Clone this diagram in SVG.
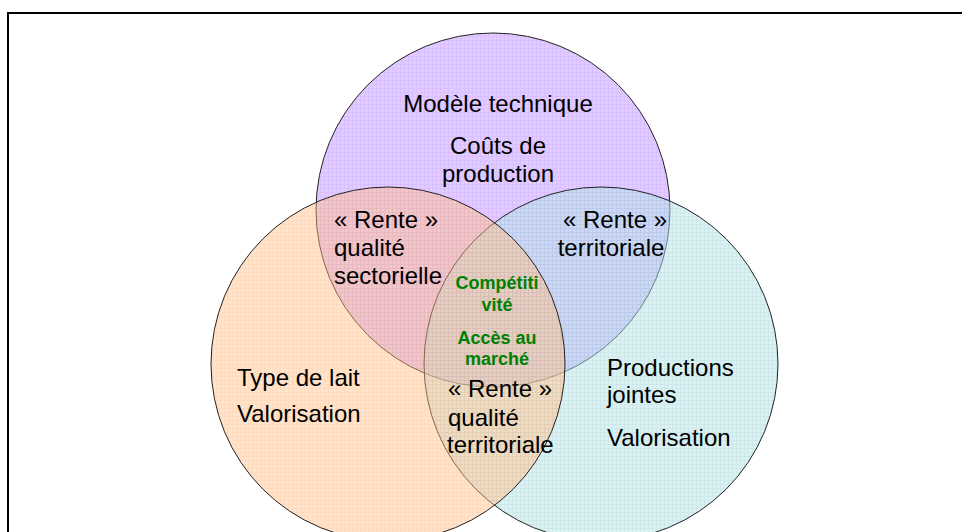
<svg xmlns="http://www.w3.org/2000/svg" width="962" height="532" viewBox="0 0 962 532">
<defs>
<pattern id="gP" width="4" height="4" patternUnits="userSpaceOnUse"><rect width="4" height="4" fill="#C896FF"/><path d="M0 0.5H4M0.5 0V4" stroke="#B482FF" stroke-width="1"/></pattern>
<pattern id="gO" width="4" height="4" patternUnits="userSpaceOnUse"><rect width="4" height="4" fill="#FFC48C"/><path d="M0 0.5H4M0.5 0V4" stroke="#FFB070" stroke-width="1"/></pattern>
<pattern id="gC" width="4" height="4" patternUnits="userSpaceOnUse"><rect width="4" height="4" fill="#BCE4E6"/><path d="M0 0.5H4M0.5 0V4" stroke="#9CD4D8" stroke-width="1"/></pattern>
</defs>
<style>
.c{stroke:#222;stroke-width:1}
.t{font-family:"Liberation Sans",Arial,sans-serif;font-size:24px;fill:#000}
.g{font-family:"Liberation Sans",Arial,sans-serif;font-size:18px;font-weight:bold;fill:#008000;text-anchor:middle}
.m{text-anchor:middle}
</style>
<rect x="0" y="0" width="962" height="532" fill="#fff"/>
<rect x="8" y="13" width="1000" height="600" fill="none" stroke="#000" stroke-width="2"/>
<g id="circle-top"><circle class="c" cx="493" cy="210" r="177" fill="url(#gP)" fill-opacity="0.5"/></g>
<g id="circle-right"><circle class="c" cx="601" cy="364" r="177" fill="url(#gC)" fill-opacity="0.5"/></g>
<g id="circle-left"><circle class="c" cx="388" cy="364" r="177" fill="url(#gO)" fill-opacity="0.45"/></g>
<g id="connectors"/>
<g id="label-top" class="t m">
<text x="498" y="112">Modèle technique</text>
<text x="498" y="154">Coûts de</text>
<text x="498" y="182">production</text>
</g>
<g id="label-top-left" class="t">
<text x="334" y="228">« Rente »</text>
<text x="334" y="256">qualité</text>
<text x="334" y="284">sectorielle</text>
</g>
<g id="label-top-right" class="t m">
<text x="615" y="228">« Rente »</text>
<text x="611" y="256">territoriale</text>
</g>
<g id="label-center">
<text class="g" x="497" y="289">Compétiti</text>
<text class="g" x="497" y="311">vité</text>
<text class="g" x="497" y="344">Accès au</text>
<text class="g" x="497" y="365">marché</text>
</g>
<g id="label-bottom" class="t">
<text x="448" y="397">« Rente »</text>
<text x="448" y="426">qualité</text>
<text x="447" y="453">territoriale</text>
</g>
<g id="label-left" class="t">
<text x="237" y="386">Type de lait</text>
<text x="237" y="422">Valorisation</text>
</g>
<g id="label-right" class="t">
<text x="607" y="376">Productions</text>
<text x="607" y="403">jointes</text>
<text x="607" y="446">Valorisation</text>
</g>
</svg>
